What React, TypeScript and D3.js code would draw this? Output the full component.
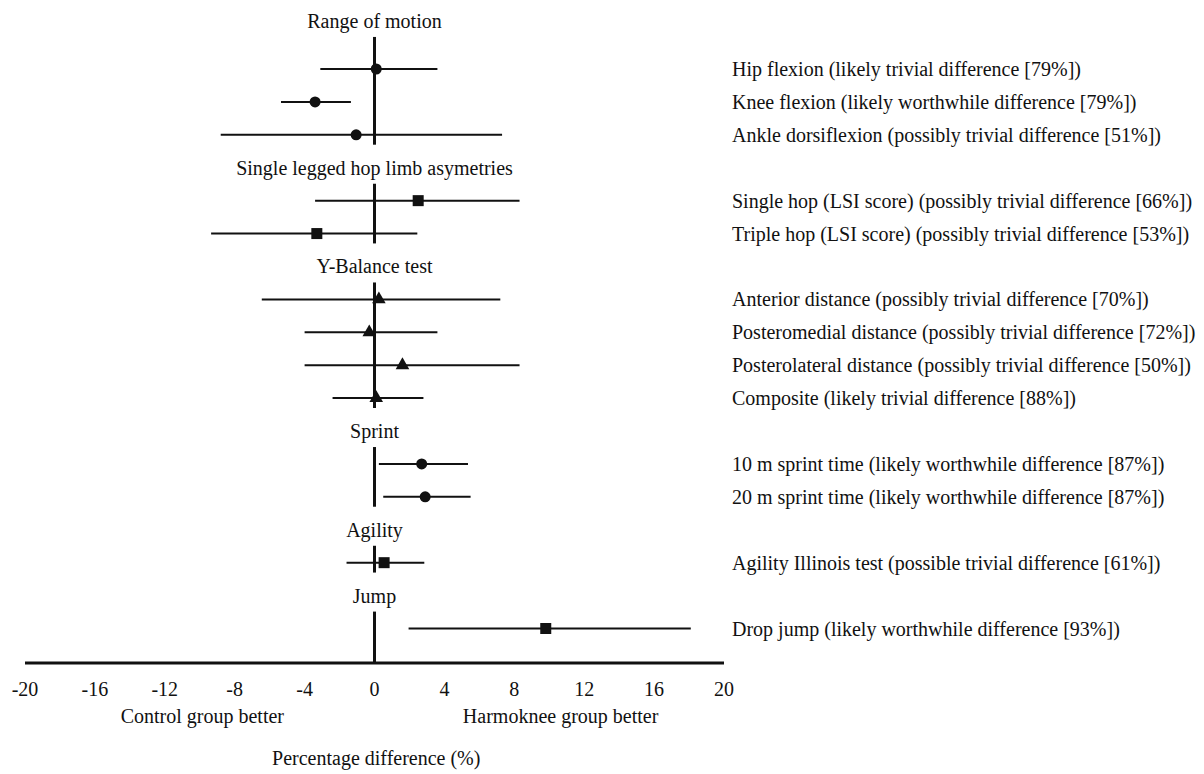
import React from "react";
import * as d3 from "d3";

const groupTitles = [
  "Range of motion",
  "Single legged hop limb asymetries",
  "Y-Balance test",
  "Sprint",
  "Agility",
  "Jump",
];
const groupShapes = ["circle", "square", "triangle", "circle", "square", "square"];

const outcomes = [
  "Hip flexion (likely trivial difference [79%])",
  "Knee flexion (likely worthwhile difference [79%])",
  "Ankle dorsiflexion (possibly trivial difference [51%])",
  "Single hop (LSI score) (possibly trivial difference [66%])",
  "Triple hop (LSI score) (possibly trivial difference [53%])",
  "Anterior distance (possibly trivial difference [70%])",
  "Posteromedial distance (possibly trivial difference [72%])",
  "Posterolateral distance (possibly trivial difference [50%])",
  "Composite (likely trivial difference [88%])",
  "10 m sprint time (likely worthwhile difference [87%])",
  "20 m sprint time (likely worthwhile difference [87%])",
  "Agility Illinois test (possible trivial difference [61%])",
  "Drop jump (likely worthwhile difference [93%])",
];
const groupOf = [0, 0, 0, 1, 1, 2, 2, 2, 2, 3, 3, 4, 5];
const estimates = [0.1, -3.4, -1.05, 2.5, -3.3, 0.25, -0.3, 1.6, 0.1, 2.7, 2.9, 0.55, 9.8];
const lower = [-3.1, -5.35, -8.8, -3.4, -9.35, -6.45, -4.0, -4.0, -2.4, 0.25, 0.5, -1.6, 1.95];
const upper = [3.6, -1.35, 7.3, 8.3, 2.45, 7.2, 3.6, 8.3, 2.8, 5.35, 5.5, 2.85, 18.1];

const xTicks = [-20, -16, -12, -8, -4, 0, 4, 8, 12, 16, 20];
const xTitle = "Percentage difference (%)";
const leftNote = "Control group better";
const rightNote = "Harmoknee group better";

const W = 1204;
const H = 774;
const FONT = "'Liberation Serif', 'Times New Roman', serif";
const INK = "#111";
const FS = 20;

export default function App() {
  const x = d3.scaleLinear().domain([-20, 20]).range([25, 724]);

  // slot layout: each group gets a title slot (except first) then its rows
  const rowSlot: number[] = [];
  const titleSlot: number[] = [];
  let s = 0;
  groupTitles.forEach((_, g) => {
    if (g > 0) {
      titleSlot.push(s);
      s += 1;
    } else {
      titleSlot.push(-1.46);
    }
    groupOf.forEach((gg, i) => {
      if (gg === g) {
        rowSlot[i] = s;
        s += 1;
      }
    });
  });
  const lastSlot = s - 1;
  const y = d3.scaleLinear().domain([0, lastSlot]).range([69, 628.5]);
  const axisY = 663;

  const tri = d3.symbol().type(d3.symbolTriangle).size(80)();

  return (
    <svg
      width={W}
      height={H}
      style={{ position: "absolute", left: 0, top: 0, background: "#fff" }}
      fontFamily={FONT}
    >
      <rect width={W} height={H} fill="#fff" />
      {/* group titles and zero lines */}
      {groupTitles.map((t, g) => {
        const rows = groupOf.map((gg, i) => (gg === g ? i : -1)).filter((i) => i >= 0);
        const ty = y(titleSlot[g]);
        const lastRow = rows[rows.length - 1];
        const y2 = g === groupTitles.length - 1 ? axisY : y(rowSlot[lastRow] + 0.3);
        return (
          <g key={t}>
            <text x={x(0)} y={ty} dy="0.35em" textAnchor="middle" fontSize={FS} fill={INK}>
              {t}
            </text>
            <line x1={x(0)} x2={x(0)} y1={ty + 16} y2={y2} stroke={INK} strokeWidth={3} />
          </g>
        );
      })}
      {/* CI lines and markers */}
      {outcomes.map((o, i) => {
        const yy = y(rowSlot[i]);
        const cx = x(estimates[i]);
        const shape = groupShapes[groupOf[i]];
        return (
          <g key={o}>
            <line x1={x(lower[i])} x2={x(upper[i])} y1={yy} y2={yy} stroke={INK} strokeWidth={2} />
            {shape === "circle" && <circle cx={cx} cy={yy} r={5.5} fill={INK} />}
            {shape === "square" && (
              <rect x={cx - 5.5} y={yy - 5.5} width={11} height={11} fill={INK} />
            )}
            {shape === "triangle" && (
              <path d={tri ?? ""} transform={`translate(${cx},${yy})`} fill={INK} />
            )}
            <text x={732} y={yy} dy="0.35em" fontSize={FS} fill={INK}>
              {o}
            </text>
          </g>
        );
      })}
      {/* x axis */}
      <line x1={x(-20)} x2={x(20)} y1={axisY} y2={axisY} stroke={INK} strokeWidth={3} />
      {xTicks.map((t) => (
        <text
          key={t}
          x={x(t)}
          y={axisY + 26}
          dy="0.35em"
          textAnchor="middle"
          fontSize={FS}
          fill={INK}
        >
          {String(t)}
        </text>
      ))}
      <text x={x(-9.85)} y={716} dy="0.35em" textAnchor="middle" fontSize={FS} fill={INK}>
        {leftNote}
      </text>
      <text x={x(10.65)} y={716} dy="0.35em" textAnchor="middle" fontSize={FS} fill={INK}>
        {rightNote}
      </text>
      <text x={x(0.1)} y={758} dy="0.35em" textAnchor="middle" fontSize={FS} fill={INK}>
        {xTitle}
      </text>
    </svg>
  );
}
